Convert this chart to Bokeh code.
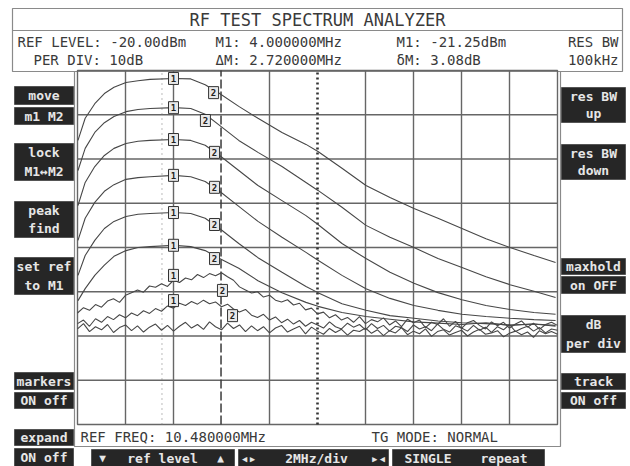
from bokeh.plotting import figure
from bokeh.models import Range1d
from bokeh.embed import file_html
from bokeh.resources import INLINE
from bokeh.core.properties import value

# ---------------- data ----------------
REF_LEVEL = -20.0      # dBm at top graticule
PER_DIV = 10.0         # dB per division
N_YDIV = 8
F_START = 0.48         # MHz
F_STOP = 20.48         # MHz
N_XDIV = 10
CENTER_FREQ = 10.48
M1_LINE_FREQ = 4.0
M2_LINE_FREQ = 6.46

freq = [0.5, 0.8, 1.2, 1.6, 2.0, 2.5, 3.0, 3.5, 4.5, 5.2, 5.8, 6.4, 7.2, 8.0,
        9.0, 10.0, 10.5, 11.5, 12.5, 13.5, 14.5, 15.5, 16.5, 17.5, 18.5, 19.5, 20.4]

trace_1 = [-35.8, -30.8, -27.5, -25.2, -23.8, -22.7, -22.3, -22.0, -21.8, -21.9, -23.2, -25.2, -28.1, -30.8,
           -34.0, -36.7, -38.3, -42.1, -46.0, -48.7, -51.2, -53.4, -55.7, -58.0, -60.0, -61.8, -63.4]
trace_2 = [-42.6, -37.6, -34.0, -31.8, -30.4, -29.3, -28.8, -28.6, -28.4, -28.6, -29.9, -32.4, -35.8, -38.5,
           -41.7, -45.3, -47.1, -50.9, -55.0, -57.7, -60.0, -62.5, -64.5, -66.6, -68.4, -69.9, -71.3]
trace_3 = [-50.5, -45.3, -41.7, -39.2, -37.6, -36.5, -36.0, -35.8, -35.6, -35.8, -36.9, -39.2, -42.6, -46.0,
           -49.4, -52.8, -54.8, -59.1, -62.5, -65.6, -68.1, -70.2, -71.8, -73.1, -74.0, -74.7, -75.1]
trace_4 = [-58.4, -53.4, -49.8, -47.3, -45.8, -44.6, -44.2, -44.0, -43.7, -44.0, -45.1, -47.3, -50.7, -54.1,
           -57.7, -61.1, -62.9, -66.3, -69.3, -71.5, -73.1, -74.2, -75.1, -75.6, -76.0, -76.3, -76.5]
trace_5 = [-66.3, -61.8, -58.4, -55.7, -54.1, -53.0, -52.5, -52.3, -52.1, -52.3, -53.4, -55.7, -59.1, -62.3,
           -65.6, -68.8, -70.2, -72.7, -74.2, -75.4, -76.0, -76.6, -77.0, -77.2, -77.5, -77.3, -77.6]
trace_6 = [-72.0, -69.3, -66.3, -64.0, -62.0, -60.7, -60.0, -59.8, -59.5, -59.8, -60.7, -62.5, -64.7, -67.5,
           -70.2, -72.4, -73.3, -74.7, -75.6, -76.2, -76.8, -77.1, -77.4, -77.0, -77.6, -77.3, -77.8]

noise_freq = [0.48, 0.73, 0.98, 1.23, 1.48, 1.73, 1.98, 2.23, 2.48, 2.73,
              2.98, 3.23, 3.48, 3.73, 3.98, 4.23, 4.48, 4.73, 4.98, 5.23,
              5.48, 5.73, 5.98, 6.23, 6.48, 6.73, 6.98, 7.23, 7.48, 7.73,
              7.98, 8.23, 8.48, 8.73, 8.98, 9.23, 9.48, 9.73, 9.98, 10.23,
              10.48, 10.73, 10.98, 11.23, 11.48, 11.73, 11.98, 12.23, 12.48, 12.73,
              12.98, 13.23, 13.48, 13.73, 13.98, 14.23, 14.48, 14.73, 14.98, 15.23,
              15.48, 15.73, 15.98, 16.23, 16.48, 16.73, 16.98, 17.23, 17.48, 17.73,
              17.98, 18.23, 18.48, 18.73, 18.98, 19.23, 19.48, 19.73, 19.98, 20.23,
              20.48]
trace_7 = [-74.8, -73.6, -74.2, -72.9, -73.5, -72.1, -71.6, -72.4, -70.8, -70.2,
           -69.6, -70.1, -68.7, -69.0, -68.2, -68.8, -67.4, -67.9, -66.9, -67.3,
           -66.1, -66.8, -65.9, -66.4, -65.7, -66.6, -67.4, -68.9, -69.6, -70.3,
           -70.0, -71.2, -70.8, -71.9, -72.3, -71.8, -73.0, -72.6, -74.1, -73.7,
           -75.0, -74.6, -75.9, -75.2, -76.4, -75.8, -76.9, -75.6, -77.2, -76.3,
           -76.8, -75.9, -77.5, -76.6, -77.9, -76.2, -77.0, -76.4, -78.1, -76.9,
           -77.4, -76.1, -77.8, -76.7, -78.3, -77.0, -76.5, -77.6, -78.4, -76.8,
           -77.7, -76.9, -78.2, -77.3, -76.6, -78.0, -77.1, -78.5, -77.4, -76.9,
           -77.6]
trace_8 = [-77.2, -76.4, -77.8, -76.1, -76.9, -75.6, -76.3, -75.2, -75.9, -74.8,
           -75.4, -74.3, -74.9, -73.8, -74.4, -73.2, -73.7, -72.6, -73.1, -72.2,
           -72.8, -71.9, -72.7, -72.3, -73.4, -72.8, -73.9, -74.6, -74.0, -75.3,
           -75.8, -75.1, -76.4, -75.7, -77.0, -76.2, -77.3, -76.5, -77.8, -76.9,
           -77.5, -78.2, -76.8, -77.9, -78.4, -77.1, -78.0, -77.4, -78.6, -77.2,
           -78.3, -77.6, -78.9, -77.8, -78.1, -79.0, -77.5, -78.4, -77.9, -78.8,
           -77.3, -78.5, -79.1, -77.7, -78.2, -78.9, -77.6, -78.7, -78.0, -79.2,
           -77.9, -78.6, -77.4, -79.0, -78.3, -77.8, -78.9, -78.1, -79.3, -78.4,
           -78.7]
trace_floor = [-78.4, -77.2, -79.0, -77.9, -78.6, -77.4, -79.2, -78.1, -77.5, -78.8,
               -77.7, -79.1, -78.0, -77.3, -78.7, -77.6, -78.9, -77.8, -76.9, -78.2,
               -77.4, -78.5, -76.8, -77.9, -78.6, -77.1, -78.3, -77.5, -79.0, -77.7,
               -78.8, -77.9, -79.3, -78.2, -77.6, -79.1, -78.4, -77.8, -79.5, -78.0,
               -78.9, -79.6, -78.3, -79.2, -78.5, -79.8, -78.7, -79.0, -78.2, -79.4,
               -78.6, -79.9, -78.8, -79.3, -78.1, -79.7, -78.9, -79.5, -78.4, -80.1,
               -79.0, -78.6, -79.8, -79.2, -78.7, -80.0, -79.1, -78.5, -79.6, -79.3,
               -78.8, -80.2, -79.4, -78.9, -79.7, -79.1, -80.3, -78.8, -79.5, -79.0,
               -79.6]

m1_freq = [4.48, 4.48, 4.48, 4.48, 4.48, 4.48, 4.48, 4.48]
m1_level = [-21.8, -28.4, -35.6, -43.7, -52.1, -59.5, -66.3, -72.0]
m1_text = ["1", "1", "1", "1", "1", "1", "1", "1"]
m2_freq = [6.15, 5.81, 6.19, 6.19, 6.19, 6.19, 6.52, 6.94]
m2_level = [-25.0, -31.3, -38.5, -46.4, -54.8, -62.5, -69.7, -75.4]
m2_text = ["2", "2", "2", "2", "2", "2", "2", "2"]

# ---------------- layout ----------------
W, H = 630, 466
PL, PR, PT, PB = 77, 557, 70, 424          # graticule box in pixels
FONT = value("DejaVu Sans Mono")

mhz_per_px = (F_STOP - F_START) / (PR - PL)
bottom_level = REF_LEVEL - N_YDIV * PER_DIV
db_per_px = (N_YDIV * PER_DIV) / (PB - PT)

p = figure(width=W, height=H,
           x_range=Range1d(F_START - PL * mhz_per_px, F_STOP + (W - PR) * mhz_per_px),
           y_range=Range1d(bottom_level - (H - PB) * db_per_px, REF_LEVEL + PT * db_per_px),
           x_axis_type=None, y_axis_type=None,
           output_backend="svg", toolbar_location=None, min_border=0)
p.outline_line_color = None
p.background_fill_color = "white"
p.border_fill_color = "white"
p.extra_x_ranges = {"px": Range1d(0, W)}
p.extra_y_ranges = {"py": Range1d(H, 0)}

PXR = dict(x_range_name="px", y_range_name="py")


def box(l, t, r, b, fill=None, line="#8a8a8a", lw=1.2):
    p.quad(left=[l], right=[r], top=[t], bottom=[b], fill_color=fill,
           line_color=line, line_width=lw, **PXR)


def txt(x, y, s, size="14px", color="#3a3a3a", align="left", bold=False):
    p.text(x=[x], y=[y], text=[s], text_font=FONT, text_font_size=size,
           text_color=color, text_align=align, text_baseline="middle",
           text_font_style="bold" if bold else "normal", **PXR)


# header
box(12, 8, 622, 71)
p.segment(x0=[12], y0=[30], x1=[622], y1=[30], line_color="#8a8a8a", line_width=1.2, **PXR)
txt(317, 19, "RF TEST SPECTRUM ANALYZER", size="17px", align="center")
txt(17, 41, "REF LEVEL: -20.00dBm")
txt(215, 41, "M1: 4.000000MHz")
txt(396, 41, "M1: -21.25dBm")
txt(618, 41, "RES BW", align="right")
txt(33, 59, "PER DIV: 10dB")
txt(215, 59, "ΔM: 2.720000MHz")
txt(396, 59, "δM: 3.08dB")
txt(618, 59, "100kHz", align="right")

# outer frame around screen
box(74, 71, 560, 446)
txt(80, 436, "REF FREQ: 10.480000MHz")
txt(371, 436, "TG MODE: NORMAL")

# soft keys
BTN = "#262626"
BTXT = "#e6e6e6"


def key(l, t, r, b, lines, size="13px"):
    box(l, t, r, b, fill=BTN, line="#555555", lw=1)
    n = len(lines)
    h = (b - t) / n
    for i, s in enumerate(lines):
        txt((l + r) / 2, t + h * (i + 0.5), s, size=size, color=BTXT, align="center", bold=True)


key(14, 86, 73, 104, ["move"])
key(14, 107, 73, 124, ["m1 M2"])
key(14, 143, 73, 180, ["lock", "M1↔M2"])
key(14, 201, 73, 237, ["peak", "find"])
key(14, 257, 73, 294, ["set ref", "to M1"])
key(14, 372, 73, 389, ["markers"])
key(14, 392, 73, 408, ["ON off"])
key(14, 429, 73, 445, ["expand"])
key(14, 448, 73, 466, ["ON off"])

key(561, 87, 625, 122, ["res BW", "up"])
key(561, 144, 625, 179, ["res BW", "down"])
key(561, 258, 625, 274, ["maxhold"])
key(561, 276, 625, 293, ["on OFF"])
key(561, 315, 625, 352, ["dB", "per div"])
key(561, 373, 625, 389, ["track"])
key(561, 392, 625, 408, ["ON off"])

box(91, 449, 234, 467, fill=BTN, line="#555555", lw=1)
txt(102, 458, "▼", size="11px", color=BTXT, align="center", bold=True)
txt(162, 458, "ref level", size="13px", color=BTXT, align="center", bold=True)
txt(220, 458, "▲", size="11px", color=BTXT, align="center", bold=True)
box(238, 449, 388, 467, fill=BTN, line="#555555", lw=1)
txt(248, 458, "◂▸", size="13px", color=BTXT, align="center", bold=True)
txt(316, 458, "2MHz/div", size="13px", color=BTXT, align="center", bold=True)
txt(378, 458, "▸◂", size="13px", color=BTXT, align="center", bold=True)
box(392, 449, 544, 467, fill=BTN, line="#555555", lw=1)
txt(404, 458, "SINGLE", size="13px", color=BTXT, bold=True)
txt(480, 458, "repeat", size="13px", color=BTXT, bold=True)

# ---------------- graticule (data units) ----------------
GRID = "#666666"
xdiv = (F_STOP - F_START) / N_XDIV
vx = [F_START + i * xdiv for i in range(1, N_XDIV)]
vx_solid = [v for v in vx if abs(v - CENTER_FREQ) > 0.01 and abs(v - M2_LINE_FREQ) > 0.2]
p.segment(x0=vx_solid, y0=[bottom_level] * len(vx_solid), x1=vx_solid, y1=[REF_LEVEL] * len(vx_solid),
          line_color=GRID, line_width=1.4)
hy = [REF_LEVEL - j * PER_DIV for j in range(1, N_YDIV)]
p.segment(x0=[F_START] * len(hy), y0=hy, x1=[F_STOP] * len(hy), y1=hy, line_color=GRID, line_width=1.4)
p.quad(left=[F_START], right=[F_STOP], top=[REF_LEVEL], bottom=[bottom_level],
       fill_color=None, line_color=GRID, line_width=1.4)

# marker / centre lines
p.segment(x0=[CENTER_FREQ], y0=[bottom_level], x1=[CENTER_FREQ], y1=[REF_LEVEL],
          line_color="#333333", line_width=2.6, line_dash="2 3")
p.segment(x0=[M1_LINE_FREQ], y0=[bottom_level], x1=[M1_LINE_FREQ], y1=[REF_LEVEL],
          line_color="#777777", line_width=1, line_dash="1 4")
p.segment(x0=[M2_LINE_FREQ], y0=[bottom_level], x1=[M2_LINE_FREQ], y1=[REF_LEVEL],
          line_color="#3a3a3a", line_width=1.5, line_dash="9 3")

# ---------------- traces ----------------
TR = "#474747"
for tr in (trace_1, trace_2, trace_3, trace_4, trace_5, trace_6):
    p.line(freq, tr, line_color=TR, line_width=1.1)
for tr in (trace_floor, trace_8, trace_7):
    p.line(noise_freq, tr, line_color=TR, line_width=1.1)

# markers
for mf, ml, mt in ((m1_freq, m1_level, m1_text), (m2_freq, m2_level, m2_text)):
    p.rect(x=mf, y=ml, width=10, height=12, width_units="screen", height_units="screen",
           fill_color="#e8e8e8", line_color="#333333", line_width=1)
    p.text(x=mf, y=ml, text=mt, text_font=FONT, text_font_size="9px", text_color="#222222",
           text_align="center", text_baseline="middle", text_font_style="bold")

open("out.html", "w").write(file_html(p, INLINE))
